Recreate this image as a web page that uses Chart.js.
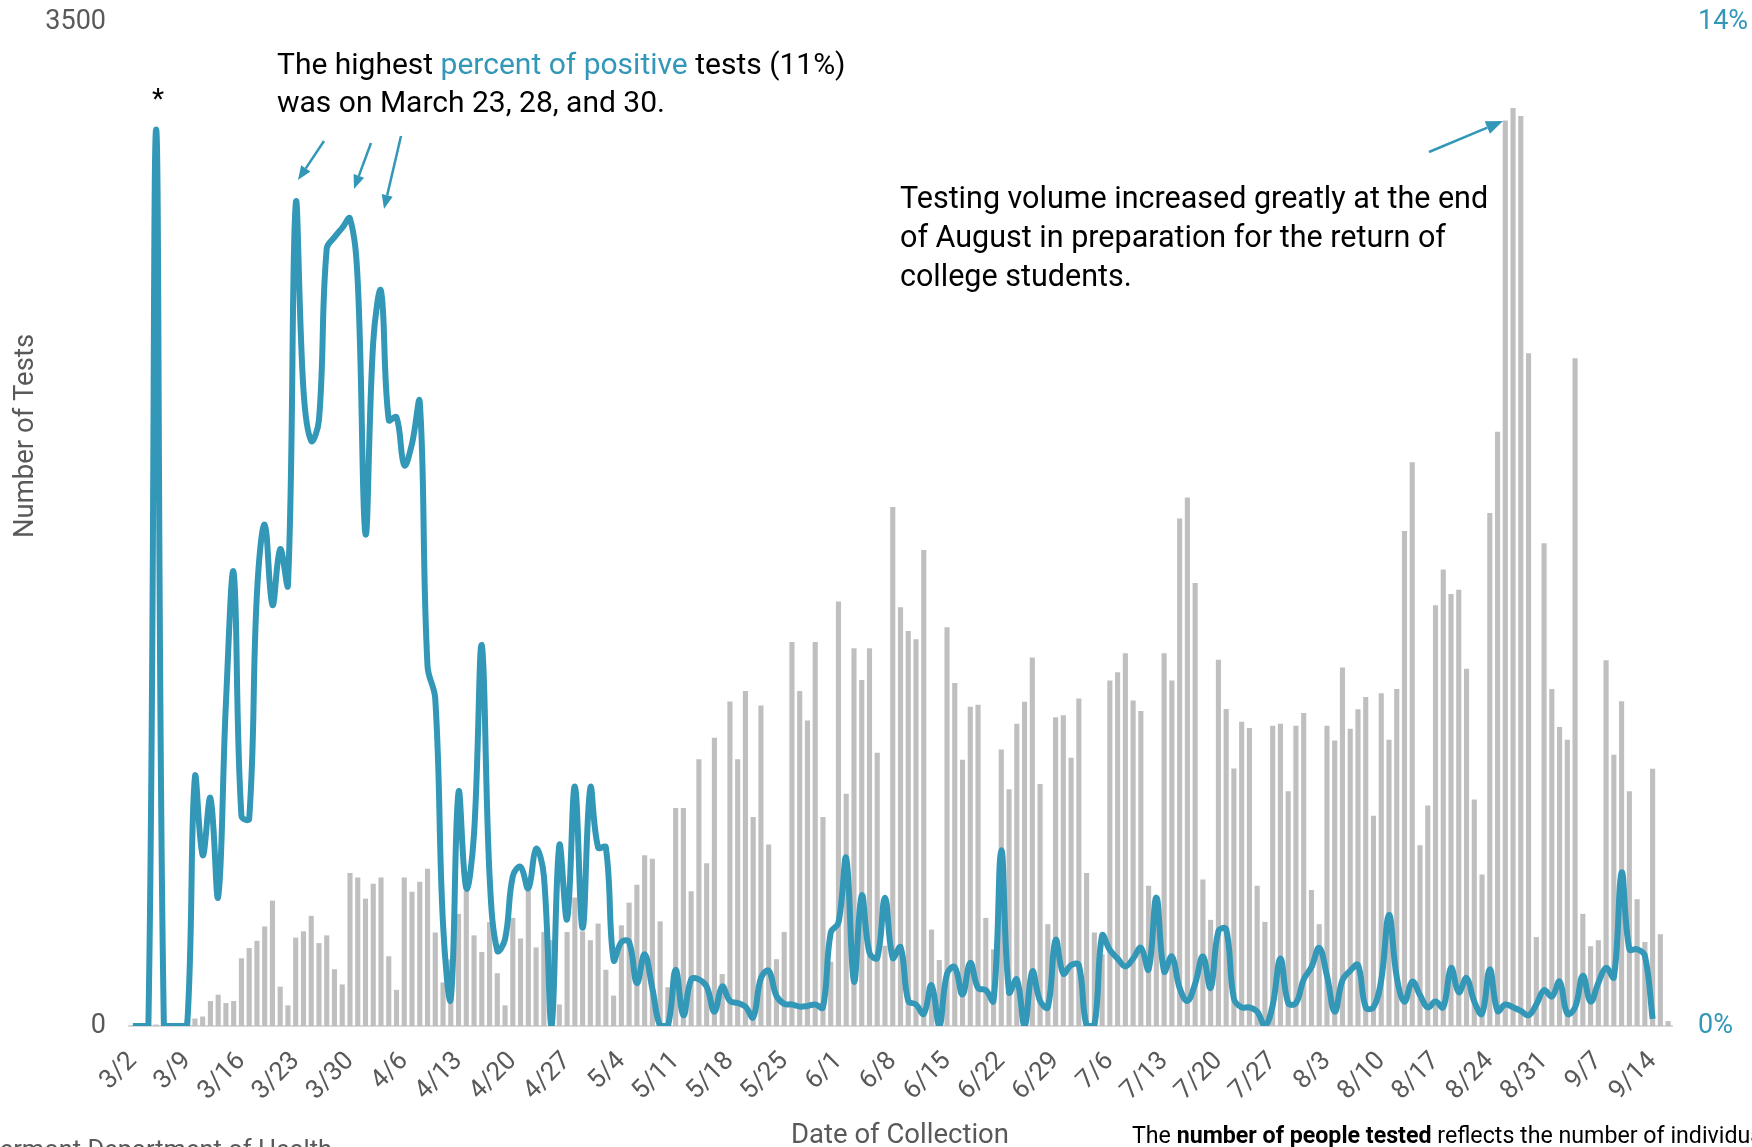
<!DOCTYPE html>
<html>
<head>
<meta charset="utf-8">
<script src="https://cdn.jsdelivr.net/npm/chart.js@4.4.1/dist/chart.umd.min.js"></script>
<style>
  html, body { margin: 0; padding: 0; background: #ffffff; overflow: hidden; }
  #wrap { width: 1752px; height: 1147px; }
</style>
</head>
<body>
<div id="wrap"><canvas id="testsChart" width="1752" height="1147"></canvas></div>
<script>
// daily categories, 3/2 .. 9/16
const dates = [
  "3/2","3/3","3/4","3/5","3/6","3/7","3/8","3/9","3/10","3/11","3/12","3/13","3/14","3/15","3/16",
  "3/17","3/18","3/19","3/20","3/21","3/22","3/23","3/24","3/25","3/26","3/27","3/28","3/29","3/30","3/31",
  "4/1","4/2","4/3","4/4","4/5","4/6","4/7","4/8","4/9","4/10","4/11","4/12","4/13","4/14","4/15",
  "4/16","4/17","4/18","4/19","4/20","4/21","4/22","4/23","4/24","4/25","4/26","4/27","4/28","4/29","4/30",
  "5/1","5/2","5/3","5/4","5/5","5/6","5/7","5/8","5/9","5/10","5/11","5/12","5/13","5/14","5/15","5/16",
  "5/17","5/18","5/19","5/20","5/21","5/22","5/23","5/24","5/25","5/26","5/27","5/28","5/29","5/30","5/31",
  "6/1","6/2","6/3","6/4","6/5","6/6","6/7","6/8","6/9","6/10","6/11","6/12","6/13","6/14","6/15",
  "6/16","6/17","6/18","6/19","6/20","6/21","6/22","6/23","6/24","6/25","6/26","6/27","6/28","6/29","6/30",
  "7/1","7/2","7/3","7/4","7/5","7/6","7/7","7/8","7/9","7/10","7/11","7/12","7/13","7/14","7/15","7/16",
  "7/17","7/18","7/19","7/20","7/21","7/22","7/23","7/24","7/25","7/26","7/27","7/28","7/29","7/30","7/31",
  "8/1","8/2","8/3","8/4","8/5","8/6","8/7","8/8","8/9","8/10","8/11","8/12","8/13","8/14","8/15","8/16",
  "8/17","8/18","8/19","8/20","8/21","8/22","8/23","8/24","8/25","8/26","8/27","8/28","8/29","8/30","8/31",
  "9/1","9/2","9/3","9/4","9/5","9/6","9/7","9/8","9/9","9/10","9/11","9/12","9/13","9/14","9/15","9/16"
];

// labels that get printed on the date axis
const tickLabels = [
  "3/2","3/9","3/16","3/23","3/30","4/6","4/13","4/20","4/27","5/4","5/11","5/18","5/25",
  "6/1","6/8","6/15","6/22","6/29","7/6","7/13","7/20","7/27","8/3","8/10","8/17","8/24",
  "8/31","9/7","9/14"
];

// number of tests per day (bars, left axis)
const peopleTested = [
  2, 3, 4, 5, 3, 6, 10, 22, 26, 33,
  87, 109, 80, 87, 236, 272, 297, 347, 437, 137,
  72, 308, 330, 384, 289, 316, 198, 145, 533, 518,
  444, 496, 518, 243, 126, 518, 468, 503, 548, 326,
  152, 232, 391, 471, 316, 258, 362, 184, 72, 377,
  305, 471, 274, 328, 300, 75, 328, 448, 330, 299,
  357, 196, 106, 351, 430, 492, 595, 583, 365, 135,
  760, 760, 470, 930, 567, 1005, 181, 1131, 930, 1168,
  729, 1117, 633, 233, 328, 1339, 1168, 1065, 1339, 729,
  224, 1480, 810, 1317, 1206, 1317, 953, 280, 1809, 1460,
  1377, 1348, 1659, 336, 230, 1390, 1196, 928, 1113, 1120,
  377, 267, 964, 825, 1054, 1130, 1285, 844, 355, 1076,
  1083, 935, 1142, 533, 326, 250, 1204, 1233, 1299, 1135,
  1098, 489, 380, 1299, 1204, 1769, 1842, 1544, 511, 370,
  1277, 1105, 898, 1061, 1039, 489, 363, 1047, 1054, 818,
  1047, 1091, 474, 355, 1047, 995, 1250, 1036, 1104, 1147,
  733, 1160, 998, 1175, 1726, 1965, 630, 769, 1467, 1591,
  1506, 1521, 1245, 790, 528, 1788, 2072, 3157, 3200, 3172,
  2345, 310, 1683, 1175, 1042, 998, 2328, 391, 278, 299,
  1275, 946, 1132, 818, 442, 293, 897, 320, 17
];

// percent of positive tests (line, right axis)
const pctPositive = [
  0, 0, 0, 12.5, 0, 0, 0, 0, 3.47, 2.38,
  3.18, 1.8, 4.5, 6.32, 2.93, 2.89, 6.03, 6.99, 5.87, 6.65,
  6.15, 11.46, 8.87, 8.16, 8.45, 10.84, 11.0, 11.13, 11.26, 10.38,
  6.86, 9.54, 10.25, 8.45, 8.49, 7.82, 8.12, 8.7, 5.02, 4.56,
  1.42, 0.38, 3.26, 1.92, 2.68, 5.31, 2.1, 1.05, 1.21, 2.09,
  2.22, 1.92, 2.47, 2.1, 0, 2.52, 1.49, 3.34, 1.37, 3.32,
  2.49, 2.49, 0.92, 1.17, 1.17, 0.6, 1.0, 0.52, 0, 0,
  0.78, 0.15, 0.65, 0.65, 0.55, 0.2, 0.55, 0.35, 0.32, 0.27,
  0.12, 0.67, 0.77, 0.42, 0.31, 0.3, 0.27, 0.28, 0.3, 0.26,
  1.3, 1.44, 2.34, 0.62, 1.82, 1.02, 0.95, 1.79, 0.95, 1.1,
  0.35, 0.3, 0.17, 0.57, 0, 0.73, 0.82, 0.44, 0.88, 0.53,
  0.5, 0.35, 2.45, 0.47, 0.65, 0, 0.76, 0.35, 0.26, 1.2,
  0.73, 0.85, 0.85, 0, 0, 1.26, 1.06, 0.94, 0.83, 0.94,
  1.09, 0.79, 1.79, 0.76, 0.97, 0.53, 0.35, 0.59, 0.97, 0.53,
  1.32, 1.35, 0.38, 0.26, 0.26, 0.2, 0, 0.29, 0.94, 0.32,
  0.32, 0.65, 0.82, 1.09, 0.7, 0.2, 0.64, 0.77, 0.85, 0.26,
  0.26, 0.64, 1.55, 0.68, 0.34, 0.62, 0.43, 0.26, 0.34, 0.26,
  0.81, 0.47, 0.67, 0.34, 0.17, 0.79, 0.21, 0.3, 0.26, 0.21,
  0.15, 0.3, 0.5, 0.41, 0.62, 0.17, 0.26, 0.7, 0.34, 0.6,
  0.81, 0.68, 2.14, 1.07, 1.07, 0.98, 0.1, null, null
];

const TEAL = "#3397b8";
const BAR_GREY = "#bfbfbf";
const TEXT_GREY = "#595959";
const FONT = "Roboto, 'Liberation Sans', sans-serif";

function drawArrow(ctx, x1, y1, x2, y2, head) {
  const a = Math.atan2(y2 - y1, x2 - x1);
  const bx = x2 - head * Math.cos(a);
  const by = y2 - head * Math.sin(a);
  ctx.beginPath();
  ctx.moveTo(x1, y1);
  ctx.lineTo(bx, by);
  ctx.stroke();
  ctx.beginPath();
  ctx.moveTo(x2, y2);
  ctx.lineTo(bx + head * 0.4 * Math.sin(a), by - head * 0.4 * Math.cos(a));
  ctx.lineTo(bx - head * 0.4 * Math.sin(a), by + head * 0.4 * Math.cos(a));
  ctx.closePath();
  ctx.fill();
}

// draws runs of [text, color, bold] one after the other
function drawRuns(ctx, runs, x, y, size) {
  let cx = x;
  runs.forEach(([txt, color, bold]) => {
    ctx.font = (bold ? "bold " : "") + size + "px " + FONT;
    ctx.fillStyle = color;
    ctx.fillText(txt, cx, y);
    cx += ctx.measureText(txt).width;
  });
}

// annotations, axis titles and notes around the plot
const notesPlugin = {
  id: "notes",
  afterDraw(chart) {
    const ctx = chart.ctx;
    ctx.save();
    ctx.textBaseline = "alphabetic";
    ctx.textAlign = "left";

    drawRuns(ctx, [["The highest ", "#000"], ["percent of positive", TEAL], [" tests (11%)", "#000"]], 277, 74, 30);
    drawRuns(ctx, [["was on March 23, 28, and 30.", "#000"]], 277, 112, 30);

    drawRuns(ctx, [["Testing volume increased greatly at the end", "#000"]], 900, 208, 30.5);
    drawRuns(ctx, [["of August in preparation for the return of", "#000"]], 900, 247, 30.5);
    drawRuns(ctx, [["college students.", "#000"]], 900, 286, 30.5);

    ctx.font = "28px " + FONT;
    ctx.fillStyle = "#000";
    ctx.textAlign = "center";
    ctx.fillText("*", 158, 108);

    ctx.strokeStyle = TEAL;
    ctx.fillStyle = TEAL;
    ctx.lineWidth = 2.5;
    drawArrow(ctx, 324, 141, 298, 180, 14);
    drawArrow(ctx, 371, 143, 354, 189, 14);
    drawArrow(ctx, 401, 136, 384, 209, 14);
    drawArrow(ctx, 1429, 152, 1503, 121, 17);

    // axis titles
    ctx.fillStyle = TEXT_GREY;
    ctx.font = "27.5px " + FONT;
    ctx.save();
    ctx.translate(26, 436);
    ctx.rotate(-Math.PI / 2);
    ctx.textAlign = "center";
    ctx.textBaseline = "middle";
    ctx.fillText("Number of Tests", 0, 0);
    ctx.restore();

    ctx.textAlign = "left";
    ctx.fillText("Date of Collection", 791, 1143);

    ctx.font = "25.5px " + FONT;
    ctx.fillText("Vermont Department of Health", -16, 1158);

    drawRuns(ctx, [["The ", "#000"], ["number of people tested", "#000", true],
      [" reflects the number of individuals tested", "#000"]], 1132, 1143, 23.2);
    ctx.restore();
  }
};

function noPad(s) {
  s.paddingTop = 0;
  s.paddingBottom = 0;
}

new Chart(document.getElementById("testsChart"), {
  data: {
    labels: dates,
    datasets: [
      {
        type: "line",
        label: "Percent positive",
        data: pctPositive,
        yAxisID: "y1",
        borderColor: TEAL,
        borderWidth: 6,
        pointRadius: 0,
        tension: 0.4,
        fill: false,
        order: 0,
      },
      {
        type: "bar",
        label: "Number of tests",
        data: peopleTested,
        yAxisID: "y",
        backgroundColor: BAR_GREY,
        barPercentage: 0.66,
        categoryPercentage: 1.0,
        order: 1,
      },
    ],
  },
  options: {
    responsive: false,
    animation: false,
    devicePixelRatio: 1,
    layout: { padding: { top: 22, left: 0, right: 0, bottom: 0 } },
    plugins: {
      legend: { display: false },
      tooltip: { enabled: false },
    },
    scales: {
      x: {
        type: "category",
        offset: true,
        grid: { display: false, drawTicks: false },
        border: { display: true, color: "#d9d9d9", width: 2 },
        ticks: {
          autoSkip: false,
          maxRotation: 45,
          minRotation: 45,
          padding: 20,
          color: TEXT_GREY,
          font: { family: FONT, size: 26 },
          callback: function (value) {
            const l = this.getLabelForValue(value);
            return tickLabels.includes(l) ? l : "";
          },
        },
        afterFit: (s) => {
          s.height = 121;
          s.paddingLeft = 0;
          s.paddingRight = 0;
        },
      },
      y: {
        position: "left",
        min: 0,
        max: 3500,
        grid: { display: false, drawTicks: false },
        border: { display: false },
        ticks: {
          stepSize: 3500,
          padding: 23,
          color: TEXT_GREY,
          font: { family: FONT, size: 27 },
          callback: (v) => String(v),
        },
        afterFit: (s) => { s.width = 129; noPad(s); },
      },
      y1: {
        position: "right",
        min: 0,
        max: 14,
        grid: { display: false, drawTicks: false },
        border: { display: false },
        ticks: {
          stepSize: 14,
          padding: 26,
          color: TEAL,
          font: { family: FONT, size: 27 },
          callback: (v) => v + "%",
        },
        afterFit: (s) => { s.width = 80; noPad(s); },
      },
    },
  },
  plugins: [notesPlugin],
});
</script>
</body>
</html>
